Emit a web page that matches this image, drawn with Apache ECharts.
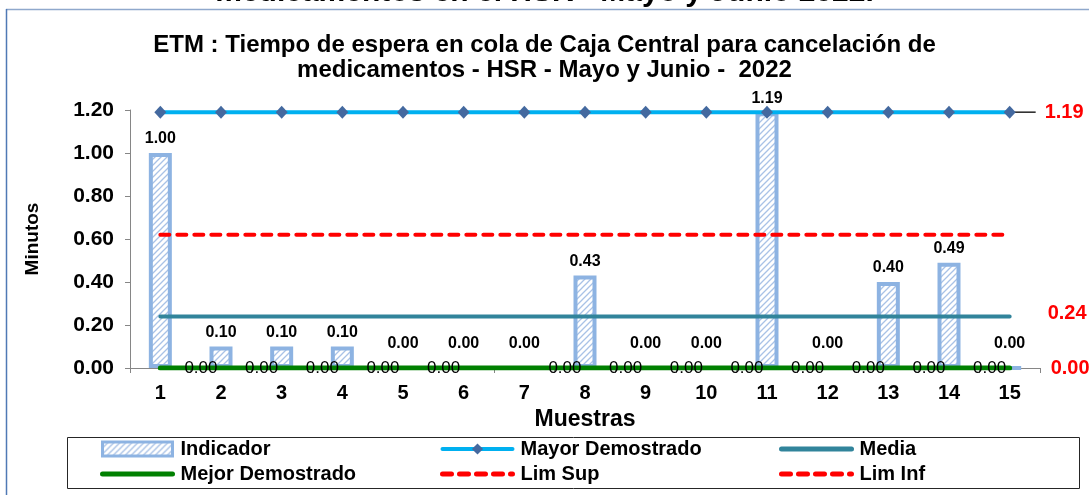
<!DOCTYPE html>
<html><head><meta charset="utf-8">
<script src="https://cdn.jsdelivr.net/npm/echarts@6/dist/echarts.min.js"></script>
<style>html,body{margin:0;padding:0;background:#fff;overflow:hidden}#c{width:1089px;height:495px}</style>
</head><body><div id="c"></div>
<script>
// ---- data ----
const categories = ['1','2','3','4','5','6','7','8','9','10','11','12','13','14','15'];
const indicador = [1.00,0.10,0.10,0.10,0.00,0.00,0.00,0.43,0.00,0.00,1.19,0.00,0.40,0.49,0.00];
const mayorDemostrado = [1.19,1.19,1.19,1.19,1.19,1.19,1.19,1.19,1.19,1.19,1.19,1.19,1.19,1.19,1.19];
const media = [0.24,0.24,0.24,0.24,0.24,0.24,0.24,0.24,0.24,0.24,0.24,0.24,0.24,0.24,0.24];
const mejorDemostrado = [0,0,0,0,0,0,0,0,0,0,0,0,0,0,0];
const limSup = [0.62,0.62,0.62,0.62,0.62,0.62,0.62,0.62,0.62,0.62,0.62,0.62,0.62,0.62,0.62];
const limInf = [0,0,0,0,0,0,0,0,0,0,0,0,0,0,0];
const mejorLabelHidden = [0, 6];
const titleText = 'ETM : Tiempo de espera en cola de Caja Central para cancelación de\nmedicamentos - HSR - Mayo y Junio -  2022';
const cutTitle = 'medicamentos en el HSR - Mayo y Junio 2022.';

const FONT = "'Liberation Sans', Arial, sans-serif";

// hatch pattern for bars
const pc = document.createElement('canvas'); pc.width = 6; pc.height = 6;
const g = pc.getContext('2d');
g.fillStyle = '#ffffff'; g.fillRect(0,0,6,6);
g.strokeStyle = '#a9c2e6'; g.lineWidth = 1.3;
g.beginPath();
g.moveTo(0,6); g.lineTo(6,0);
g.moveTo(-1,1); g.lineTo(1,-1);
g.moveTo(5,7); g.lineTo(7,5);
g.stroke();
const hatch = { image: pc, repeat: 'repeat' };

const chart = echarts.init(document.getElementById('c'), null, {renderer: 'canvas'});

const barData = indicador.map(v => ({
  value: v,
  label: { distance: v === 0 ? 14 : 6 }
}));
const mejorData = mejorDemostrado.map((v, i) => ({
  value: v,
  symbol: 'circle', symbolSize: 1,
  label: { show: mejorLabelHidden.indexOf(i) < 0 }
}));

const legendText = { fontFamily: FONT, fontSize: 20, fontWeight: 'bold', color: '#000', padding: [0, 0, 0, 3] };
const legendCommon = {
  orient: 'vertical', top: 439, padding: 0, itemWidth: 70, itemHeight: 14, itemGap: 5,
  textStyle: legendText, selectedMode: false, icon: 'inherit',
  itemStyle: { borderWidth: 3 },
  lineStyle: { width: 5, cap: 'round' }
};
const noSym = name => ({ name: name, itemStyle: { opacity: 0 } });

const option = {
  animation: false,
  backgroundColor: '#fff',
  title: [
    { text: titleText, left: 'center', top: 28,
      textStyle: { fontFamily: FONT, fontSize: 24, fontWeight: 'bold', color: '#000', lineHeight: 25 } },
    { text: cutTitle, left: 'center', top: -27,
      textStyle: { fontFamily: FONT, fontSize: 30, fontWeight: 'bold', color: '#000' } }
  ],
  grid: { left: 130, right: 49, top: 110, bottom: 127 },
  legend: [
    Object.assign({}, legendCommon, { left: 100, data: ['Indicador', noSym('Mejor Demostrado')] }),
    Object.assign({}, legendCommon, { left: 440, data: [{ name: 'Mayor Demostrado', lineStyle: { width: 4 } }, noSym('Lim Sup')] }),
    Object.assign({}, legendCommon, { left: 779, data: [noSym('Media'), noSym('Lim Inf')] })
  ],
  xAxis: {
    type: 'category', data: categories, boundaryGap: true,
    name: 'Muestras', nameLocation: 'middle', nameGap: 38,
    nameTextStyle: { fontFamily: FONT, fontSize: 23, fontWeight: 'bold', color: '#000' },
    axisLine: { lineStyle: { color: '#868686', width: 1 } },
    axisTick: { show: true, interval: 0, alignWithLabel: false, length: 5, lineStyle: { color: '#868686' } },
    axisLabel: { fontFamily: FONT, fontSize: 20, fontWeight: 'bold', color: '#000', margin: 15, interval: 0 },
    splitLine: { show: false }
  },
  yAxis: {
    type: 'value', min: 0, max: 1.2, interval: 0.2,
    name: 'Minutos', nameLocation: 'middle', nameGap: 88, nameRotate: 90,
    nameTextStyle: { fontFamily: FONT, fontSize: 19, fontWeight: 'bold', color: '#000' },
    axisLine: { show: true, lineStyle: { color: '#868686', width: 1 } },
    axisTick: { show: true, length: 5, lineStyle: { color: '#868686' } },
    axisLabel: { fontFamily: FONT, fontSize: 21, fontWeight: 'bold', color: '#000', margin: 16,
      formatter: v => v.toFixed(2) },
    splitLine: { show: false }
  },
  series: [
    { name: 'Indicador', type: 'bar', data: barData, barWidth: 23,
      itemStyle: { color: hatch, borderColor: '#8db3e2', borderWidth: 4 },
      label: { show: true, position: 'top', fontFamily: FONT, fontSize: 16, fontWeight: 'bold', color: '#000',
        formatter: p => p.value.toFixed(2) } },
    { name: 'Mayor Demostrado', type: 'line', data: mayorDemostrado,
      symbol: 'diamond', symbolSize: [12, 13], showSymbol: true,
      itemStyle: { color: '#44699f' },
      lineStyle: { color: '#00b0f0', width: 4, cap: 'round' },
      endLabel: { show: true, distance: 35, fontFamily: FONT, fontSize: 20, fontWeight: 'bold', color: '#ff0000',
        formatter: p => p.value.toFixed(2) } },
    { name: 'Media', type: 'line', data: media, symbol: 'none',
      itemStyle: { color: '#31849b' },
      lineStyle: { color: '#31849b', width: 4, cap: 'round' },
      endLabel: { show: true, distance: 38, offset: [0, -3], fontFamily: FONT, fontSize: 20, fontWeight: 'bold', color: '#ff0000',
        formatter: p => p.value.toFixed(2) } },
    { name: 'Lim Inf', type: 'line', data: limInf, symbol: 'none',
      itemStyle: { color: '#ff0000' },
      lineStyle: { color: '#ff0000', width: 4, type: [9, 8], cap: 'round' },
      endLabel: { show: true, distance: 41, fontFamily: FONT, fontSize: 20, fontWeight: 'bold', color: '#ff0000',
        formatter: p => p.value.toFixed(2) } },
    { name: 'Mejor Demostrado', type: 'line', data: mejorData, symbol: 'none', showSymbol: true,
      itemStyle: { color: '#008000' },
      lineStyle: { color: '#008000', width: 5, cap: 'round' },
      label: { show: true, position: 'left', distance: 3, fontFamily: FONT, fontSize: 17, color: '#000',
        formatter: p => p.value.toFixed(2) } },
    { name: 'Lim Sup', type: 'line', data: limSup, symbol: 'none',
      itemStyle: { color: '#ff0000' },
      lineStyle: { color: '#ff0000', width: 4, type: [9, 8], cap: 'round' } }
  ]
};
chart.setOption(option);

const last = categories.length - 1;
const pEnd = chart.convertToPixel({ gridIndex: 0 }, [last, mayorDemostrado[last]]);
chart.setOption({
  graphic: [
    { type: 'line', silent: true, shape: { x1: 6, y1: 9.5, x2: 1089, y2: 9.5 }, style: { stroke: '#8fa8cc', lineWidth: 1.5 } },
    { type: 'line', silent: true, shape: { x1: 6.5, y1: 9, x2: 6.5, y2: 495 }, style: { stroke: '#4f79b5', lineWidth: 1.5 } },
    { type: 'rect', silent: true, shape: { x: 67.5, y: 437.5, width: 1012, height: 51 }, style: { fill: 'none', stroke: '#262626', lineWidth: 1 }, z: -1 },
    { type: 'line', silent: true, shape: { x1: pEnd[0], y1: pEnd[1], x2: pEnd[0] + 26, y2: pEnd[1] }, style: { stroke: '#000', lineWidth: 1.3 }, z: 1 }
  ]
});
</script>
</body></html>
